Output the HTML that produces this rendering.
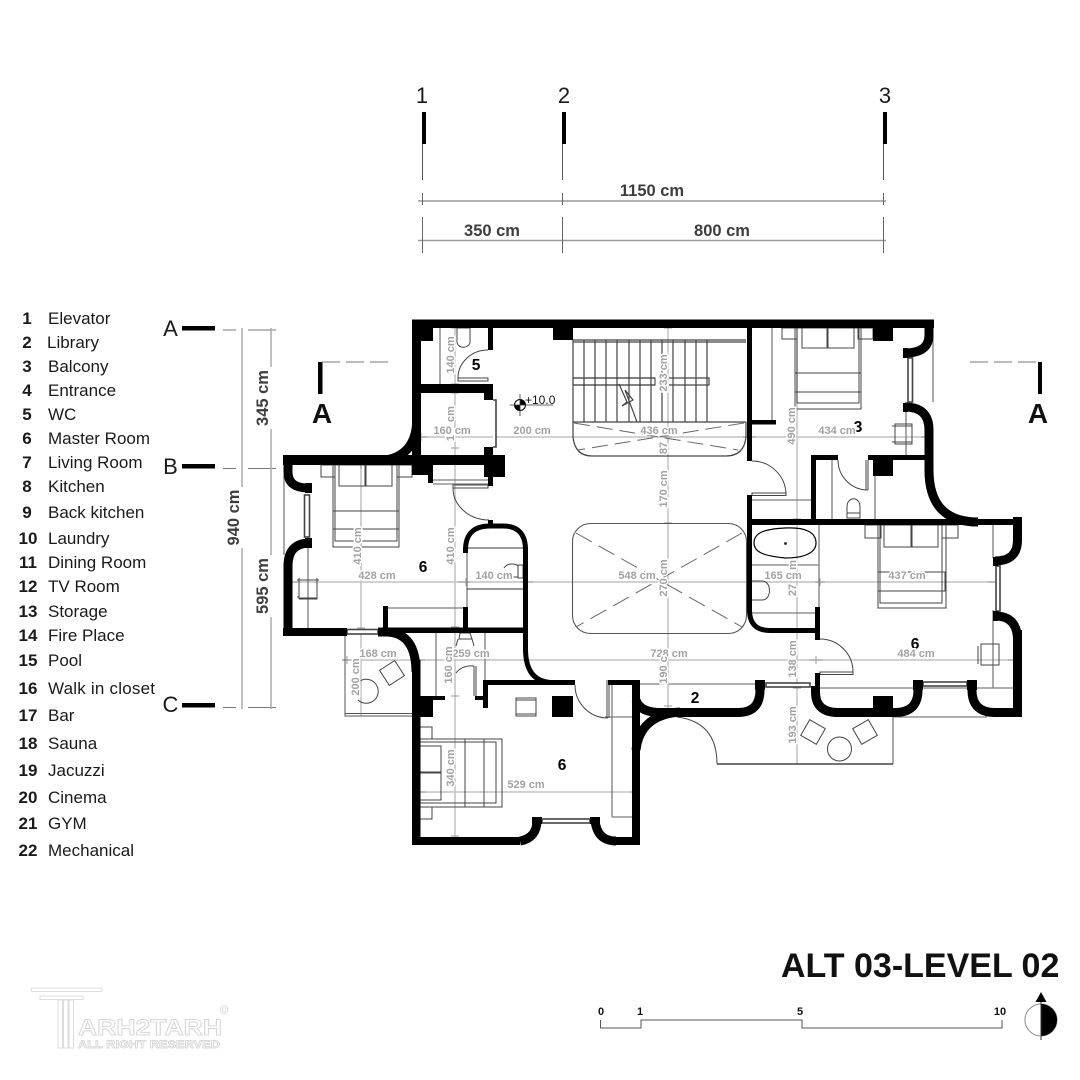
<!DOCTYPE html>
<html><head><meta charset="utf-8"><style>
html,body{margin:0;padding:0;background:#fff}
svg{display:block}
text{font-family:"Liberation Sans",sans-serif}
.lg{font-size:17px;fill:#1a1a1a}
.ln{font-size:17px;font-weight:bold;fill:#1a1a1a;text-anchor:middle}
.d{font-size:11px;font-weight:bold;fill:#a2a2a2;text-anchor:middle;stroke:#fff;stroke-width:3px;paint-order:stroke}
.r{font-size:15.5px;font-weight:bold;fill:#000;text-anchor:middle}
.dk{font-size:16.5px;font-weight:bold;fill:#3d3d3d;text-anchor:middle}
.t{fill:none;stroke:#444;stroke-width:1}
.g{fill:none;stroke:#7d7d7d;stroke-width:1.3}
.w{fill:none;stroke:#000;stroke-width:9}
.w5{fill:none;stroke:#000;stroke-width:5}
.dm{fill:none;stroke:#c2c2c2;stroke-width:1.5}
.tk{fill:none;stroke:#999;stroke-width:1}
.wn{fill:#fff;stroke:#444;stroke-width:1.6}
.lgo{fill:#fff;stroke:#dcdcdc;stroke-width:1}
</style></head><body>
<svg width="1080" height="1080" viewBox="0 0 1080 1080" xmlns="http://www.w3.org/2000/svg">
<rect width="1080" height="1080" fill="#fff"/>

<!-- Grid -->
<g font-size="22" fill="#1a1a1a" text-anchor="middle">
<text x="422" y="103">1</text><text x="564" y="103">2</text><text x="885" y="103">3</text></g>
<rect x="422" y="112" width="4" height="32" fill="#000"/><rect x="562" y="112" width="4" height="32" fill="#000"/><rect x="883" y="112" width="4" height="32" fill="#000"/>
<path d="M422.5 144V180M562.5 144V180M883.5 144V180" stroke="#555" fill="none"/>
<path d="M418 201H886M418 240.500H886" stroke="#999" stroke-width="1.5" fill="none"/>
<path d="M422.500 193V205M562.500 193V205M883.500 193V205M422.500 217V253M562.500 217V253M883.500 217V253" stroke="#666" fill="none"/>
<text class="dk" x="652" y="196">1150 cm</text><text class="dk" x="492" y="236">350 cm</text><text class="dk" x="722" y="236">800 cm</text>

<!-- Level markers -->
<g font-size="22" fill="#1a1a1a" text-anchor="middle"><text x="170.500" y="336">A</text><text x="170.500" y="474">B</text><text x="170.500" y="712">C</text></g>
<rect x="182" y="326" width="33" height="4.500" fill="#000"/><rect x="182" y="464" width="33" height="4.500" fill="#000"/><rect x="182" y="703" width="33" height="4.500" fill="#000"/>
<path d="M223 330H236M248 330H276M223 468.500H236M248 468.500H276M223 707.500H236M248 707.500H276" stroke="#777" fill="none"/>
<path d="M242 328V487M242 548V709M271 328V367M271 429V555M271 617V709" stroke="#aaa" stroke-width="1.500" fill="none"/>
<text font-size="16.500" font-weight="bold" fill="#3d3d3d" text-anchor="middle" transform="translate(239,517.500) rotate(-90)">940 cm</text>
<text font-size="16.500" font-weight="bold" fill="#3d3d3d" text-anchor="middle" transform="translate(268,398) rotate(-90)">345 cm</text>
<text font-size="16.500" font-weight="bold" fill="#3d3d3d" text-anchor="middle" transform="translate(268,586) rotate(-90)">595 cm</text>

<!-- Section marks -->
<rect x="318" y="362" width="4.500" height="32" fill="#000"/><rect x="1038" y="362" width="4" height="32" fill="#000"/>
<path d="M322 362H391M970 362H1040" stroke="#777" stroke-width="1" stroke-dasharray="18 6" fill="none"/>
<text x="322" y="423" font-size="28" font-weight="bold" text-anchor="middle" fill="#111">A</text>
<text x="1038" y="423" font-size="28" font-weight="bold" text-anchor="middle" fill="#111">A</text>

<!-- Legend -->
<g>
<text class="ln" x="27" y="324">1</text><text class="lg" x="48" y="324">Elevator</text>
<text class="ln" x="27" y="348">2</text><text class="lg" x="47" y="348">Library</text>
<text class="ln" x="27" y="372">3</text><text class="lg" x="48" y="372">Balcony</text>
<text class="ln" x="27" y="396">4</text><text class="lg" x="48" y="396">Entrance</text>
<text class="ln" x="27" y="420">5</text><text class="lg" x="48" y="420">WC</text>
<text class="ln" x="27" y="444">6</text><text class="lg" x="48" y="444">Master Room</text>
<text class="ln" x="27" y="468">7</text><text class="lg" x="48" y="468">Living Room</text>
<text class="ln" x="27" y="492">8</text><text class="lg" x="48" y="492">Kitchen</text>
<text class="ln" x="27" y="518">9</text><text class="lg" x="48" y="518">Back kitchen</text>
<text class="ln" x="28" y="544">10</text><text class="lg" x="48" y="544">Laundry</text>
<text class="ln" x="28" y="568">11</text><text class="lg" x="48" y="568">Dining Room</text>
<text class="ln" x="28" y="592">12</text><text class="lg" x="48" y="592">TV Room</text>
<text class="ln" x="28" y="617">13</text><text class="lg" x="48" y="617">Storage</text>
<text class="ln" x="28" y="641">14</text><text class="lg" x="48" y="641">Fire Place</text>
<text class="ln" x="28" y="666">15</text><text class="lg" x="48" y="666">Pool</text>
<text class="ln" x="28" y="694">16</text><text class="lg" x="48" y="694" textLength="107">Walk in closet</text>
<text class="ln" x="28" y="721">17</text><text class="lg" x="48" y="721">Bar</text>
<text class="ln" x="28" y="749">18</text><text class="lg" x="48" y="749">Sauna</text>
<text class="ln" x="28" y="776">19</text><text class="lg" x="48" y="776">Jacuzzi</text>
<text class="ln" x="28" y="803">20</text><text class="lg" x="48" y="803">Cinema</text>
<text class="ln" x="28" y="829">21</text><text class="lg" x="48" y="829">GYM</text>
<text class="ln" x="28" y="856">22</text><text class="lg" x="48" y="856">Mechanical</text>
</g>

<!-- Room numbers beneath dims -->
<text class="r" x="858" y="432" font-size="15">3</text>
<text class="r" x="915" y="649">6</text>

<!-- Dimension lines -->
<path class="dm" d="M421 437H925M290 582H996M342 660H1016M420 792H634M361 465V716M455 328V837M668 328V708M797 328V764"/>
<path class="tk" d="M417 437H427M421 433V441M743 437H756M751 433V441M921 437H930M925 433V441
M288 582H298M292 578V586M458 582H470M466 578V586M521 582H533M526 578V586M815 582H825M820 578V586M988 582H996
M342 660H352M347 656V664M415 660H425M809 660H823M816 656V664M1008 660H1018
M416 792H426M630 792H638M361 461V469M357 628H365M357 716H365M451 328H459M451 384H459M451 393H459M451 448H459M451 627H459M451 696H459M451 836H459
M664 328H672M664 437H672M664 456H672M664 523H672M664 706H672M793 328H801M793 519H801M793 630H801M793 688H801M793 764H801"/>

<!-- Thin plan lines -->
<g class="g">
<path d="M440 328V384M433 480H488M433 484H488"/>
<path d="M284 475V555M308 495V628M467 553V607M388 608H463M436 633V696M485 633V680"/>
<path d="M772 328V420M752 500H811M752 565H819M819 525V607M752 613H815M832 460V519M875 476V519M906 412V456M933 338V402"/>
<path d="M993 525V558M993 610V688M820 688H1013M820 688V688M640 684H755M820 688H893M612 685V817M612 817H632M605 717H640"/>
<path d="M893 717V764M893 717H987"/>
</g>
<path d="M467 548H523M467 589H523" stroke="#333" fill="none"/>
<path d="M345 633V716H412M345 713.500H412" stroke="#555" fill="none"/>
<path d="M717 764H893" stroke="#222" stroke-width="1.300" fill="none"/>
<path class="t" d="M677 717Q717 722 717 764"/>

<!-- Stairs -->
<g stroke="#444" stroke-width="1.200" fill="none">
<path d="M573 340H746M573 342H746M573 422H746"/>
<path d="M573 340V422M584 340V422M595 340V422M606 340V422M617 340V422M629 340V422M640 340V422M651 340V422M662 340V422M673 340V422M685 340V422M696 340V422M707 340V422"/>
<path d="M573 378H655M573 385H655M669 378H709V385H669"/>
<path d="M619 384L627 402L622 406L633 400L625 390L637 422" />
<path d="M573 422V437Q575 456 592 456H726Q744 456 746 437V422"/>
</g>
<rect x="573" y="378" width="82" height="7" fill="none" stroke="#333"/>
<path d="M574 423L738 450M744 423L578 450" stroke="#666" fill="none" stroke-dasharray="16 7"/>

<!-- Void -->
<rect x="572.500" y="523.500" width="174" height="110" rx="18" fill="none" stroke="#555" stroke-width="1.100"/>
<path d="M576 533L742 627M742 533L576 627" stroke="#666" fill="none" stroke-dasharray="18 8"/>

<!-- Furniture: beds -->
<g class="t">
<!-- top right -->
<rect x="782" y="328" width="15" height="11"/><rect x="858" y="328" width="15" height="11"/>
<rect x="795" y="328" width="66" height="81"/><rect x="797" y="328" width="62" height="75"/>
<rect x="802" y="328" width="25" height="20"/><rect x="828" y="328" width="26" height="20"/>
<path d="M795 373H861M795 392H861"/>
<!-- left -->
<rect x="321" y="465" width="14" height="12"/><rect x="397" y="465" width="15" height="12"/>
<rect x="333" y="465" width="66" height="82"/><rect x="335" y="465" width="62" height="76"/>
<rect x="339" y="465" width="26" height="21"/><rect x="366" y="465" width="26" height="21"/>
<path d="M333 511H399M333 529H399"/>
<!-- right -->
<rect x="865" y="525" width="16" height="13"/><rect x="942" y="525" width="16" height="13"/>
<rect x="878" y="525" width="68" height="83"/><rect x="880" y="525" width="62" height="78"/>
<rect x="884" y="525" width="27" height="22"/><rect x="912" y="525" width="26" height="22"/>
<rect x="878" y="572" width="67" height="19"/>
<!-- bottom left -->
<rect x="420" y="727" width="12" height="12"/><rect x="420" y="807" width="12" height="12"/>
<rect x="420" y="739" width="82" height="68"/><rect x="420" y="742" width="76" height="61"/>
<rect x="420" y="746" width="21" height="26"/><rect x="420" y="773" width="21" height="27"/>
<rect x="465" y="739" width="19" height="68"/>
</g>

<!-- Chairs -->
<g class="t" stroke-width="1.100">
<path d="M297 580H319M299 578V599M317 578V599H299M297 597H299"/><rect x="299" y="580" width="18" height="18" fill="none"/>
<rect x="895" y="424" width="17" height="20"/><path d="M892 426H912M892 442H912"/>
<rect x="981" y="644" width="18" height="21"/><path d="M978 646V664"/>
<rect x="516" y="698" width="20" height="18"/><path d="M516 700H536M516 714H536"/>
<rect x="383" y="664" width="18" height="18" transform="rotate(-33 392 673)"/>
<rect x="804" y="723" width="18" height="18" transform="rotate(30 813 732)"/>
<rect x="856" y="723" width="18" height="18" transform="rotate(-30 865 732)"/>
<circle cx="839.500" cy="749" r="12"/>
<path d="M360 681A12 12 0 1 1 358 700"/>
<circle cx="785.500" cy="543.500" r="1" fill="#000"/>
<path d="M754 543C754 532 766 529 785 528C805 527 816 532 816 543C816 553 804 558 785 558C766 556 754 553 754 543Z" stroke="#000" stroke-width="1.200"/>
<path d="M457 328H470V342C470 348 458 350 457 342Z"/>
<path d="M847 518V507C847 496 860 496 860 507V518ZM847 513H860"/>
<path d="M752 581H762C772 581 772 600 762 600H752"/>
<path d="M518 565H523V578H518ZM504 568C508 562 516 564 518 566M504 577H518"/>
<path d="M460 633H470L472 639H459ZM458 639L456 646M472 639L474 646"/>
</g>

<!-- Door swings -->
<g class="t" stroke-width="1">
<path d="M488 350A30 28 0 0 0 458 378"/><rect x="458" y="378" width="30" height="3"/>
<path d="M453 488A36 32 0 0 0 489 520"/><rect x="453" y="485" width="35" height="3"/>
<path d="M752 461A34 34 0 0 1 786 495"/><rect x="752" y="493" width="34" height="2.500"/>
<path d="M838 460A30 30 0 0 0 868 490"/><path d="M866 460V490M868 460V490"/>
<path d="M820 639A33 33 0 0 1 853 672"/><rect x="820" y="672" width="33" height="2.500"/>
<path d="M575 685A33 33 0 0 0 608 718"/><path d="M607 680V718M609 680V718"/>
<path d="M474 666Q462 665 456 673"/><path d="M474 666V696M476 666V696"/>
</g>

<!-- Windows -->
<g class="wn">
<rect x="304.500" y="495" width="5" height="42"/>
<rect x="908" y="358" width="4.500" height="44"/>
<rect x="996" y="566" width="4" height="45"/>
<rect x="347" y="629.500" width="31" height="4.500"/>
<rect x="542" y="819" width="48" height="4"/>
<rect x="766" y="683" width="44" height="4"/>
<rect x="923" y="682" width="44" height="4"/>
<path d="M493 400H496V447H493"/>
</g>

<!-- Walls -->
<g fill="#000">
<rect x="412" y="319.500" width="522" height="8.500"/>
<rect x="412" y="319.500" width="9" height="137"/>
<rect x="283" y="455" width="222" height="10"/>
<rect x="412" y="455" width="21" height="20"/><rect x="428" y="475" width="5" height="8"/>
<rect x="484" y="455" width="21" height="22"/><rect x="488" y="477" width="5" height="9"/>
<rect x="421" y="328" width="12" height="13"/>
<rect x="488" y="328" width="5" height="22"/>
<rect x="421" y="384" width="72" height="9"/><rect x="484" y="384" width="9" height="16"/><rect x="484" y="447" width="9" height="8"/>
<rect x="553" y="328" width="20" height="12"/>
<rect x="873" y="328" width="20" height="13"/>
<rect x="747" y="328" width="5" height="133"/><rect x="752" y="420" width="24" height="4.500"/>
<rect x="811" y="455" width="27" height="5"/><rect x="811" y="455" width="5" height="64"/>
<rect x="868" y="455" width="60" height="5"/><rect x="873" y="460" width="20" height="16"/>
<rect x="747" y="519" width="275" height="6"/>
<rect x="488" y="520" width="5" height="6"/>
<rect x="815" y="607" width="5" height="33"/>
<rect x="815" y="673" width="5" height="16"/>
<rect x="1013" y="517" width="9" height="20"/>
<rect x="1013" y="630" width="9" height="87"/>
<rect x="283" y="628" width="62" height="8"/><rect x="340" y="628" width="7" height="8"/>
<rect x="387" y="627.500" width="138" height="5.500"/>
<rect x="383" y="606" width="5" height="24"/><rect x="463" y="607" width="5" height="22"/>
<rect x="412" y="660" width="8.500" height="185"/>
<rect x="413" y="696" width="20" height="21"/><rect x="433" y="696" width="12" height="4"/>
<rect x="475" y="696" width="9" height="4"/>
<rect x="483" y="680" width="92" height="5"/><rect x="483" y="680" width="5" height="28"/>
<rect x="552" y="696" width="21" height="21"/>
<rect x="608" y="680" width="32" height="5"/><rect x="632" y="680" width="8" height="165"/>
<rect x="412" y="837" width="108" height="8"/><rect x="532" y="817" width="10" height="7"/>
<rect x="590" y="817" width="10" height="7"/><rect x="612" y="837" width="26" height="8"/>
<rect x="873" y="696" width="20" height="21"/>
<rect x="755" y="680" width="10" height="10"/><rect x="815" y="680" width="5" height="10"/>
<rect x="913" y="680" width="10" height="10"/><rect x="967" y="680" width="10" height="10"/>
<rect x="305" y="483" width="7" height="10"/><rect x="305" y="538" width="7" height="10"/>
<rect x="903" y="348" width="5" height="10"/><rect x="903" y="403" width="5" height="9"/>
<rect x="993" y="557" width="5" height="9"/><rect x="993" y="611" width="5" height="10"/>
</g>
<path class="w" d="M416.500 425Q414 455 386 460"/>
<path class="w" d="M288 465V472Q288 488 308 488"/>
<path class="w" d="M310 543Q288 543 288 566V632"/>
<path class="w" d="M378 632H388Q416 634 416 672"/>
<path class="w" d="M929 328V335Q929 353 905 353"/>
<path class="w" d="M905 407Q929 407 929 430V470Q929 522 978 522"/>
<path class="w" d="M1017.500 525V540Q1017.500 561 995 561"/>
<path class="w" d="M995 616Q1017.500 616 1017.500 640"/>
<path class="w" d="M815.500 686V692Q815.500 712.500 838 712.500H895Q918 712.500 918 690V684"/>
<path class="w" d="M972 684V690Q972 712.500 995 712.500H1022"/>
<path class="w" d="M760 684V690Q760 712.500 738 712.500H660Q640 712.500 636 700"/>
<path class="w" d="M636 750Q640 715 680 712"/>
<path class="w" d="M520 841Q537 838 537 820"/>
<path class="w" d="M595 820Q597 841 616 841"/>
<path class="w5" d="M465.500 553V550Q465.500 526 490 526H503Q525.500 526 525.500 550V650Q526 682 552 682.500"/>
<path class="w5" d="M749.500 495V610Q749.500 630.500 770 630.500H815"/>

<!-- Dim labels -->
<text class="d" x="452" y="434">160 cm</text>
<text class="d" x="532" y="434">200 cm</text>
<text class="d" x="659" y="434">436 cm</text>
<text class="d" x="837" y="434">434 cm</text>
<text class="d" x="377" y="579">428 cm</text>
<text class="d" x="494" y="579">140 cm</text>
<text class="d" x="637" y="579">548 cm</text>
<text class="d" x="783" y="579">165 cm</text>
<text class="d" x="907" y="579">437 cm</text>
<text class="d" x="916" y="657">484 cm</text>
<text class="d" x="669" y="657">728 cm</text>
<text class="d" x="378" y="657">168 cm</text>
<text class="d" x="471" y="657">259 cm</text>
<text class="d" x="526" y="788">529 cm</text>
<text class="d" transform="translate(454,355) rotate(-90)">140 cm</text>
<text class="d" transform="translate(454,414) rotate(-90)">cm</text>
<text class="d" transform="translate(454,438) rotate(-90)">1</text>
<text class="d" transform="translate(667,373) rotate(-90)">233 cm</text>
<text class="d" transform="translate(667,448) rotate(-90)">87</text>
<text class="d" transform="translate(667,489) rotate(-90)">170 cm</text>
<text class="d" transform="translate(667,578) rotate(-90)">270 cm</text>
<text class="d" transform="translate(795,426) rotate(-90)">490 cm</text>
<text class="d" transform="translate(361,546) rotate(-90)">410 cm</text>
<text class="d" transform="translate(454,546) rotate(-90)">410 cm</text>
<text class="d" transform="translate(796,565) rotate(-90)">m</text>
<text class="d" transform="translate(796,590) rotate(-90)">27</text>
<text class="d" transform="translate(796,659) rotate(-90)">138 cm</text>
<text class="d" transform="translate(796,725) rotate(-90)">193 cm</text>
<text class="d" transform="translate(667,670) rotate(-90)">190 c</text>
<text class="d" transform="translate(359,677) rotate(-90)">200 cm</text>
<text class="d" transform="translate(452,665) rotate(-90)">160 cm</text>
<text class="d" transform="translate(454,768) rotate(-90)">340 cm</text>

<!-- Room labels -->
<text class="r" x="476" y="370">5</text>
<text class="r" x="423" y="572">6</text>
<text class="r" x="562" y="770">6</text>
<text class="r" x="695" y="703">2</text>

<!-- Elevation marker -->
<circle cx="520" cy="405" r="5.500" fill="#fff" stroke="#000"/>
<path d="M520 405V399.500A5.500 5.500 0 0 1 525.500 405ZM520 405V410.500A5.500 5.500 0 0 1 514.500 405Z" fill="#000"/>
<path d="M510 405H553M520 394V416" stroke="#333" stroke-width="0.800" fill="none"/>
<text x="525" y="404" font-size="12" fill="#111">+10.0</text>

<!-- Title -->
<text x="781" y="977" font-size="34" font-weight="bold" fill="#111">ALT 03-LEVEL 02</text>

<!-- Scale -->
<path d="M600.500 1020V1028H641V1020H802V1028H1002V1020" fill="none" stroke="#555" stroke-width="1"/>
<g font-size="11" font-weight="bold" text-anchor="middle" fill="#111">
<text x="601" y="1015">0</text><text x="640" y="1015">1</text><text x="800" y="1015">5</text><text x="1000" y="1015">10</text></g>

<!-- North -->
<circle cx="1041" cy="1020" r="16" fill="#fff" stroke="#888"/>
<path d="M1041 1004A16 16 0 0 1 1041 1036Z" fill="#000"/>
<path d="M1041 992L1046.500 1002H1035.500Z" fill="#000"/>
<path d="M1041 1002V1040" stroke="#333" fill="none"/>

<!-- Logo -->
<g class="lgo">
<rect x="31" y="988" width="71" height="3.500" rx="1.500"/>
<rect x="40" y="996" width="43" height="3.500"/>
<rect x="58" y="1000" width="4.500" height="48"/><rect x="63.500" y="1000" width="4.500" height="48"/><rect x="69" y="1000" width="4.500" height="48"/>
</g>
<text x="78" y="1035" font-size="22" font-weight="bold" textLength="144" lengthAdjust="spacingAndGlyphs" fill="#fff" stroke="#d6d6d6" stroke-width="0.900">ARH2TARH</text>
<text x="78" y="1048" font-size="11" font-weight="bold" textLength="142" lengthAdjust="spacingAndGlyphs" fill="#fff" stroke="#d0d0d0" stroke-width="0.700">ALL RIGHT RESERVED</text>
<text x="224" y="1014" font-size="12" fill="#cfcfcf" text-anchor="middle">©</text>
</svg>
</body></html>
